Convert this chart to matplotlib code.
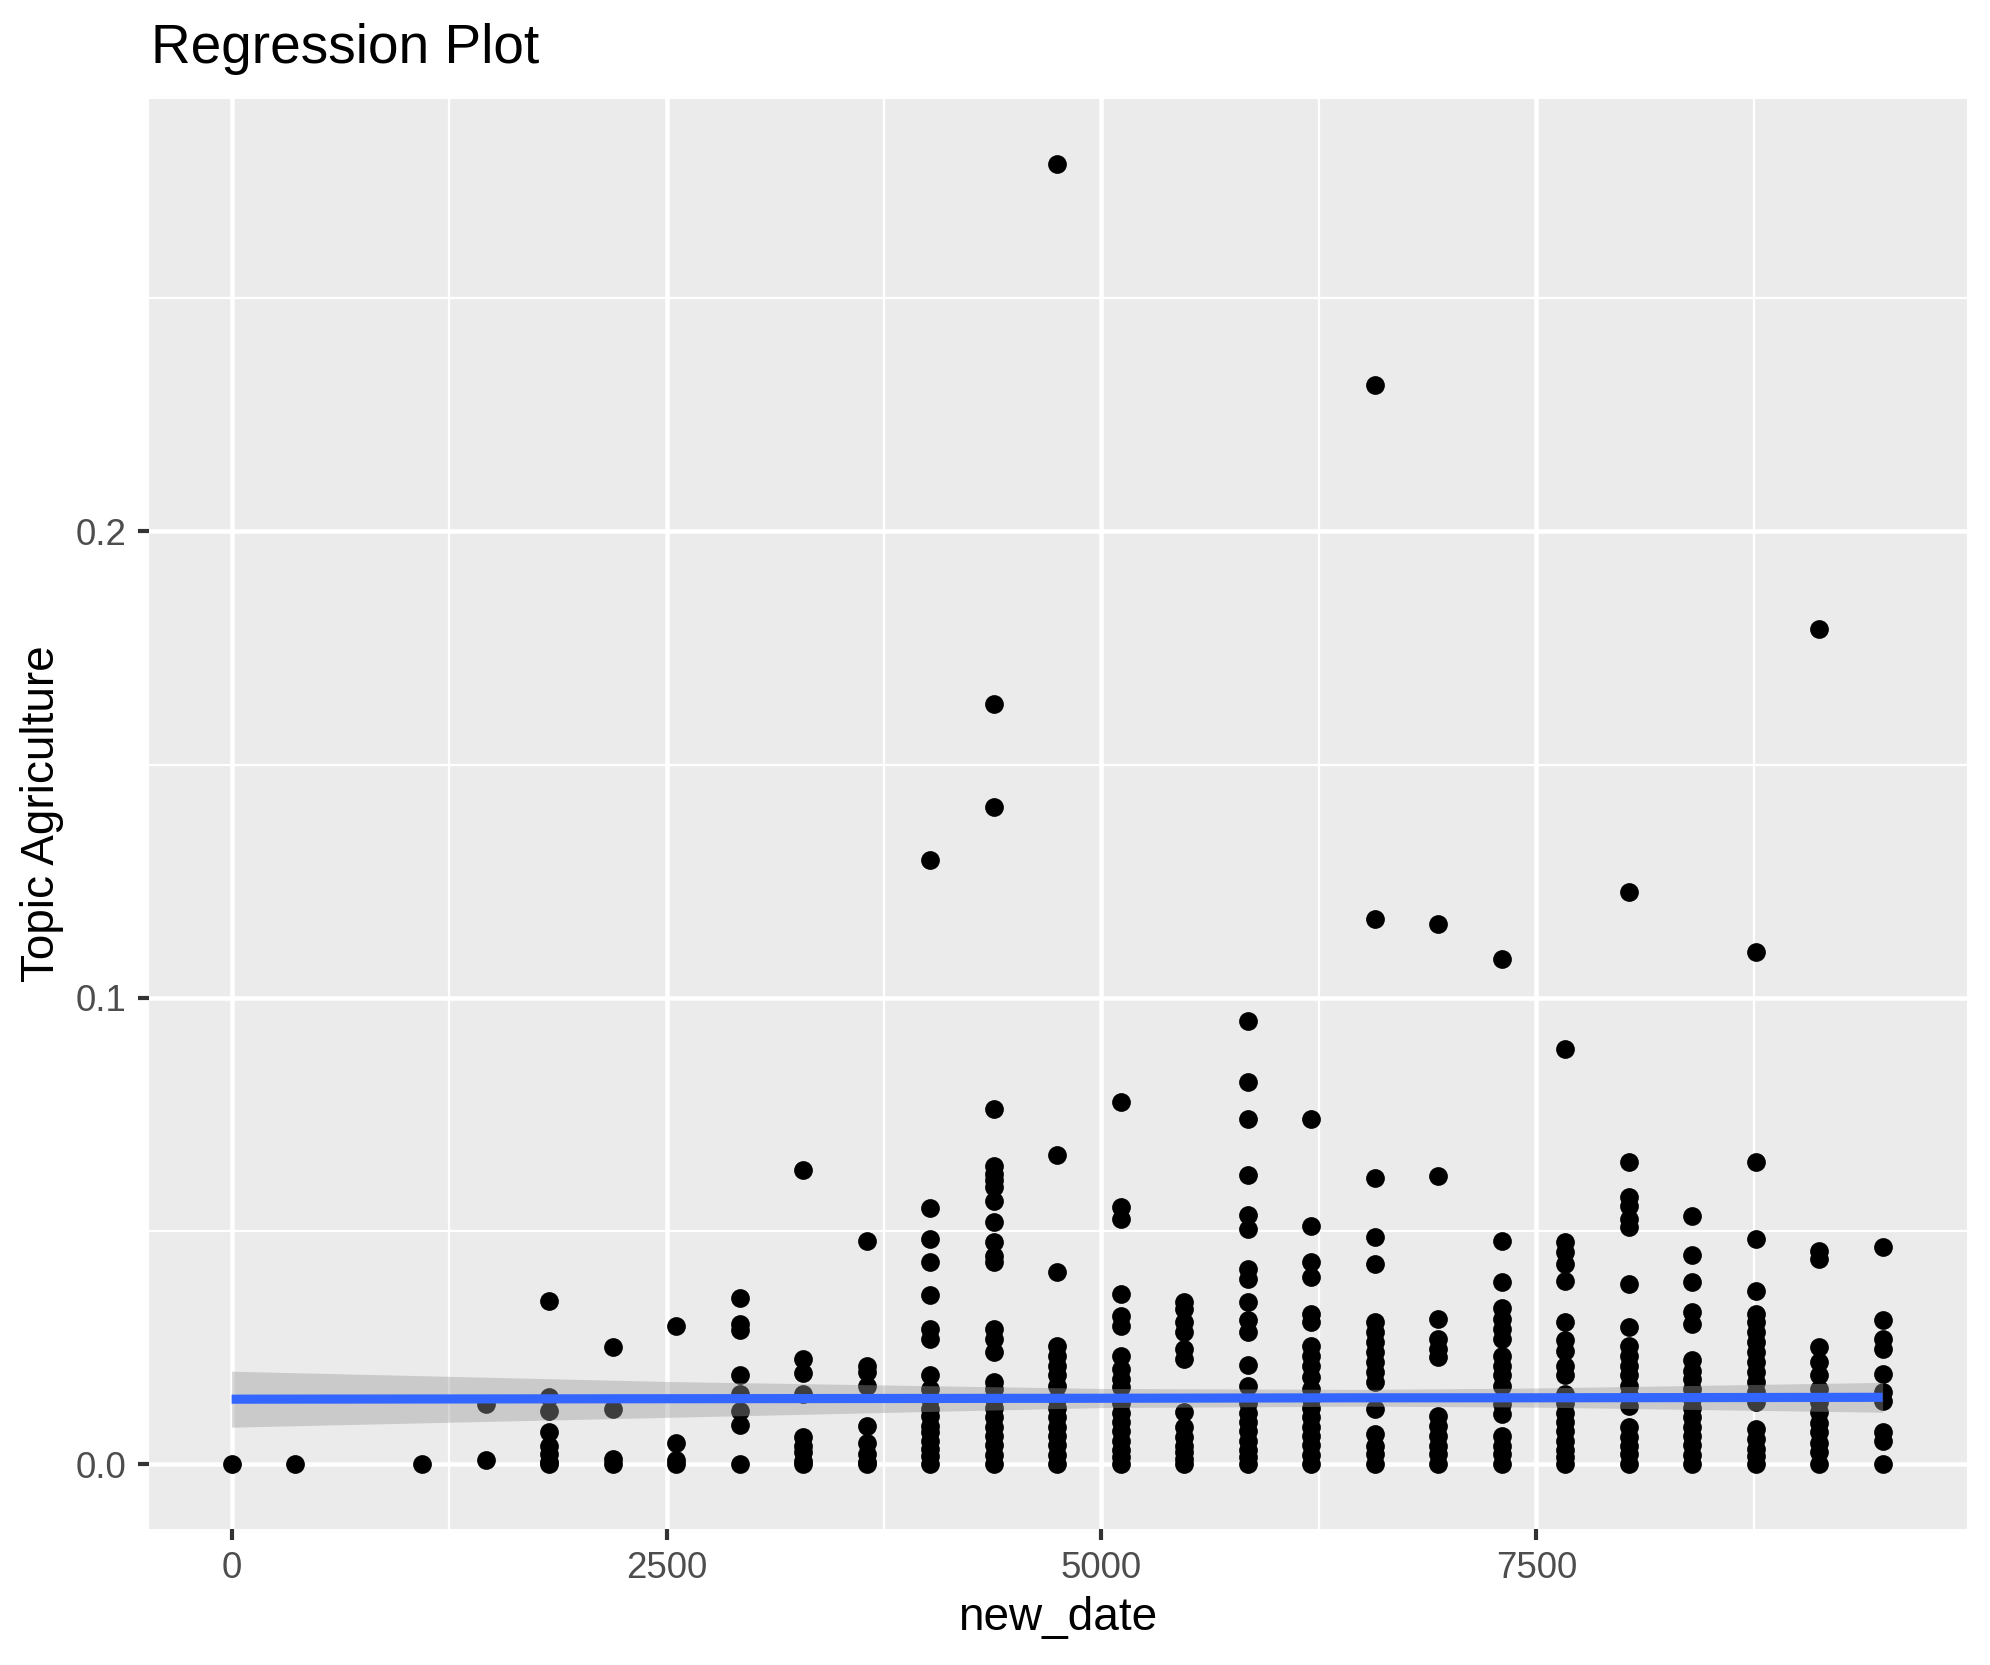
import numpy as np
import matplotlib
matplotlib.use('Agg')
import matplotlib.pyplot as plt

plt.rcParams['font.family'] = ['Liberation Sans', 'DejaVu Sans']

# x position (days) of each yearly column
new_date = [0, 365, 1095, 1460, 1825, 2190, 2555, 2920, 3285, 3650, 4015, 4380, 4745,
            5110, 5475, 5840, 6205, 6570, 6935, 7300, 7665, 8030, 8395, 8760, 9125, 9490]

# topic share values in each column
agri = [
    [0.0],
    [0.0],
    [0.0],
    [0.0008, 0.0128],
    [0.035, 0.0143, 0.0113, 0.0068, 0.0039, 0.0021, 0.0004, 0.0],
    [0.025, 0.0118, 0.0011, 0.0],
    [0.0297, 0.0046, 0.0008, 0.0],
    [0.0356, 0.030, 0.0288, 0.019, 0.015, 0.0113, 0.0084, 0.0],
    [0.0631, 0.0225, 0.0195, 0.0150, 0.0057, 0.0039, 0.0025, 0.0007, 0.0],
    [0.0479, 0.0211, 0.0197, 0.0168, 0.0082, 0.0046, 0.0021, 0.0004, 0.0],
    [0.1296, 0.0549, 0.0483, 0.0434, 0.0363, 0.0290, 0.0268, 0.0190, 0.0161, 0.0139,
     0.0118, 0.0104, 0.0082, 0.0068, 0.0050, 0.0032, 0.0018, 0.0],
    [0.1630, 0.1408, 0.0762, 0.0640, 0.0622, 0.0608, 0.0594, 0.0563, 0.0520, 0.0476,
     0.0447, 0.0433, 0.0290, 0.0268, 0.0240, 0.0175, 0.0161, 0.0139, 0.012, 0.010,
     0.008, 0.006, 0.004, 0.002, 0.0],
    [0.2788, 0.0662, 0.0411, 0.0254, 0.0232, 0.0211, 0.0190, 0.0168, 0.014, 0.012,
     0.010, 0.008, 0.006, 0.004, 0.002, 0.0],
    [0.0776, 0.0551, 0.0526, 0.0365, 0.0318, 0.0297, 0.0232, 0.0204, 0.0182, 0.0165,
     0.013, 0.011, 0.009, 0.007, 0.005, 0.003, 0.0015, 0.0],
    [0.0348, 0.0333, 0.0304, 0.0283, 0.0247, 0.0225, 0.0111, 0.0079, 0.0057, 0.0039,
     0.0025, 0.0011, 0.0],
    [0.0951, 0.0820, 0.0740, 0.0619, 0.0533, 0.0504, 0.0418, 0.0397, 0.0348, 0.0308,
     0.0283, 0.0212, 0.0168, 0.013, 0.011, 0.009, 0.007, 0.005, 0.003, 0.0015, 0.0],
    [0.0740, 0.0510, 0.0433, 0.0401, 0.0322, 0.0304, 0.0254, 0.0232, 0.0211, 0.0186,
     0.0161, 0.014, 0.012, 0.010, 0.008, 0.006, 0.004, 0.002, 0.0],
    [0.2315, 0.1168, 0.0614, 0.0486, 0.0428, 0.0304, 0.0283, 0.0261, 0.0240, 0.0218,
     0.0197, 0.0175, 0.0118, 0.0064, 0.0039, 0.0021, 0.0],
    [0.1158, 0.0617, 0.0311, 0.0268, 0.0247, 0.0229, 0.0104, 0.0082, 0.0061, 0.0039,
     0.0021, 0.0],
    [0.1084, 0.0479, 0.0391, 0.0334, 0.0311, 0.0290, 0.0268, 0.0232, 0.0211, 0.0190,
     0.0168, 0.0129, 0.0107, 0.0061, 0.0039, 0.0021, 0.0],
    [0.0889, 0.0476, 0.0454, 0.0429, 0.0393, 0.0305, 0.0265, 0.0243, 0.0211, 0.0190,
     0.015, 0.013, 0.011, 0.009, 0.007, 0.005, 0.003, 0.0015, 0.0],
    [0.1226, 0.0647, 0.0572, 0.0554, 0.0526, 0.0508, 0.0386, 0.0293, 0.0254, 0.0232,
     0.0211, 0.0190, 0.0168, 0.0147, 0.0125, 0.0079, 0.0057, 0.0039, 0.0021, 0.0],
    [0.0531, 0.0448, 0.0390, 0.0327, 0.0300, 0.0222, 0.0200, 0.0182, 0.0161, 0.014,
     0.012, 0.010, 0.008, 0.006, 0.004, 0.002, 0.0],
    [0.1098, 0.0647, 0.0483, 0.0370, 0.0322, 0.0304, 0.0283, 0.0261, 0.0240, 0.0218,
     0.0197, 0.0175, 0.0154, 0.0132, 0.0075, 0.0054, 0.0032, 0.0018, 0.0],
    [0.1791, 0.0456, 0.0440, 0.0250, 0.0218, 0.0190, 0.0161, 0.0132, 0.0111, 0.0089,
     0.0068, 0.0046, 0.0025, 0.0],
    [0.0465, 0.0308, 0.0268, 0.0247, 0.0193, 0.0154, 0.0136, 0.0068, 0.0050, 0.0],
]

# fitted line and confidence band
smooth_x = [0, 2500, 5000, 6500, 7500, 9490]
smooth_fit = [0.0139, 0.0140, 0.0141, 0.0142, 0.0142, 0.0143]
smooth_lo = [0.0079, 0.0100, 0.0121, 0.0124, 0.0122, 0.0111]
smooth_hi = [0.0199, 0.0177, 0.0162, 0.0160, 0.0163, 0.0175]

xs = np.concatenate([[d] * len(v) for d, v in zip(new_date, agri)])
ys = np.concatenate(agri)

fig = plt.figure(figsize=(1990 / 300, 1665 / 300), dpi=300)
ax = fig.add_axes([149 / 1990, 1 - 1529 / 1665, 1818 / 1990, 1430 / 1665])
ax.set_facecolor('#EBEBEB')
for s in ax.spines.values():
    s.set_visible(False)

ax.plot(xs, ys, 'o', color='black', markersize=4.5, mew=0, zorder=3)
ax.fill_between(smooth_x, smooth_lo, smooth_hi, color='#999999', alpha=0.4, lw=0, zorder=4)
ax.plot(smooth_x, smooth_fit, color='#3366FF', lw=2.2, zorder=5, solid_capstyle='butt')

xmax = 9500
ymax = max(ys)
ax.set_xlim(-0.05 * xmax, 1.05 * xmax)
ax.set_ylim(-0.05 * ymax, 1.05 * ymax)

ax.set_xticks([0, 2500, 5000, 7500])
ax.set_xticklabels(['0', '2500', '5000', '7500'])
ax.set_yticks([0.0, 0.1, 0.2])
ax.set_yticklabels(['0.0', '0.1', '0.2'])
ax.set_xticks([1250, 3750, 6250, 8750], minor=True)
ax.set_yticks([0.05, 0.15, 0.25], minor=True)
ax.grid(which='major', color='white', lw=1.1)
ax.grid(which='minor', color='white', lw=0.55)
ax.set_axisbelow(True)
ax.tick_params(which='major', length=2.75, width=1.0, color='#333333',
               labelsize=8.8, labelcolor='#4D4D4D', pad=2.6)
ax.tick_params(which='minor', length=0)

ax.set_xlabel('new_date', fontsize=11, va='center')
ax.xaxis.set_label_coords(0.5, -0.0622)
ax.set_ylabel('Topic Agriculture', fontsize=11, va='center')
ax.yaxis.set_label_coords(-0.0589, 0.5)

fig.text(151 / 1990, 1 - 63 / 1665, 'Regression Plot', fontsize=13.2, ha='left', va='baseline')

fig.savefig('out.png', dpi=300, facecolor='white')
